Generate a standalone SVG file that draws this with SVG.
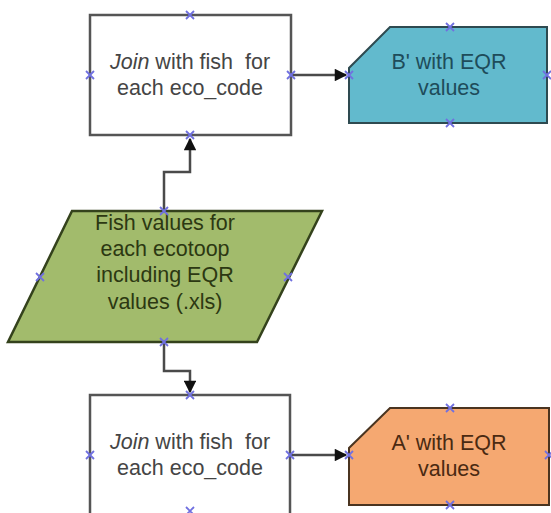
<svg xmlns="http://www.w3.org/2000/svg" width="551" height="513" viewBox="0 0 551 513">
<defs>
<style>
.box{fill:#ffffff;stroke:#555555;stroke-width:2.5}
.lbl{font-family:"Liberation Sans",Arial,sans-serif;font-size:21.5px;text-anchor:middle;white-space:pre}
.g{fill:#454545}
.conn{fill:none;stroke:#4a4a4a;stroke-width:2.5}
.x{stroke:#7070e0;stroke-width:1.8;fill:none}
</style>
<marker id="ah" viewBox="0 0 10 10" refX="9" refY="5" markerWidth="5.5" markerHeight="5" orient="auto" markerUnits="strokeWidth">
<path d="M0,0 L10,5 L0,10 z" fill="#111111"/>
</marker>
<g id="xm"><path class="x" d="M-4,-4 L4,4 M-4,4 L4,-4"/></g>
</defs>
<rect width="551" height="513" fill="#ffffff"/>
<g id="connectors">
<path class="conn" d="M164,210 V172 H190 V139" marker-end="url(#ah)"/>
<path class="conn" d="M164,342 V371 H190 V392" marker-end="url(#ah)"/>
<path class="conn" d="M291,75 H346" marker-end="url(#ah)"/>
<path class="conn" d="M290,455 H346" marker-end="url(#ah)"/>
</g>
<g id="join1">
<rect class="box" x="90" y="15" width="201" height="120"/>
<text class="lbl g" x="190" y="69" xml:space="preserve"><tspan font-style="italic">Join</tspan> with fish&#160; for</text>
<text class="lbl g" x="190" y="95">each eco_code</text>
</g>
<g id="bprime">
<path d="M390,27 H547 V123 H349 V68 Z" fill="#62bacd" stroke="#2e4a50" stroke-width="2"/>
<text class="lbl" fill="#1e4c5a" x="449" y="69">B' with EQR</text>
<text class="lbl" fill="#1e4c5a" x="449" y="95">values</text>
</g>
<g id="fish">
<path d="M72,211 H322 L257,342 H8 Z" fill="#a2bb6c" stroke="#34421c" stroke-width="2.5"/>
<text class="lbl" fill="#2c3812" x="165" y="230">Fish values for</text>
<text class="lbl" fill="#2c3812" x="165" y="256">each ecotoop</text>
<text class="lbl" fill="#2c3812" x="165" y="282">including EQR</text>
<text class="lbl" fill="#2c3812" x="165" y="309">values (.xls)</text>
</g>
<g id="join2">
<rect class="box" x="90" y="395" width="200" height="130"/>
<text class="lbl g" x="190" y="449" xml:space="preserve"><tspan font-style="italic">Join</tspan> with fish&#160; for</text>
<text class="lbl g" x="190" y="475">each eco_code</text>
</g>
<g id="aprime">
<path d="M390,408 H549 V505 H349 V448 Z" fill="#f5a871" stroke="#4a3420" stroke-width="2"/>
<text class="lbl" fill="#4a2a12" x="449" y="450">A' with EQR</text>
<text class="lbl" fill="#4a2a12" x="449" y="476">values</text>
</g>
<g id="marks">
<use href="#xm" x="190" y="15"/><use href="#xm" x="90" y="75"/><use href="#xm" x="291" y="75"/><use href="#xm" x="190" y="135"/>
<use href="#xm" x="450" y="27"/><use href="#xm" x="349" y="75"/><use href="#xm" x="547" y="75"/><use href="#xm" x="450" y="123"/>
<use href="#xm" x="164" y="211"/><use href="#xm" x="40" y="277"/><use href="#xm" x="288" y="277"/><use href="#xm" x="164" y="342"/>
<use href="#xm" x="190" y="395"/><use href="#xm" x="90" y="455"/><use href="#xm" x="290" y="455"/><use href="#xm" x="190" y="511"/>
<use href="#xm" x="450" y="408"/><use href="#xm" x="349" y="455"/><use href="#xm" x="549" y="455"/><use href="#xm" x="450" y="505"/>
</g>
</svg>
